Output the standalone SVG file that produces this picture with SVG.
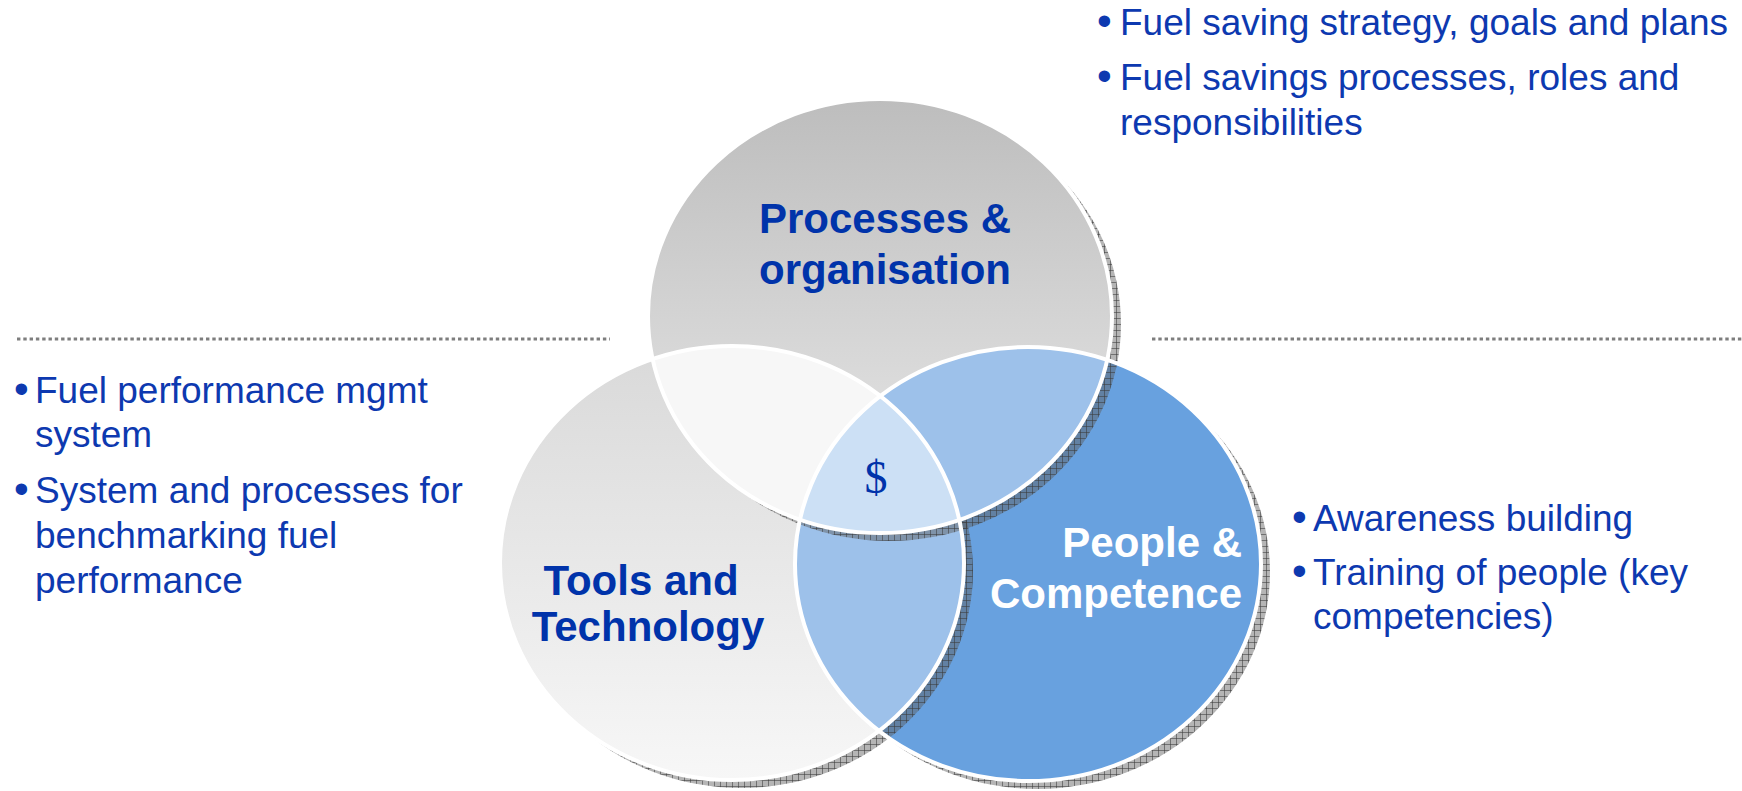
<svg xmlns="http://www.w3.org/2000/svg" width="1742" height="791" viewBox="0 0 1742 791">
  <defs>
    <linearGradient id="gT" x1="0" y1="0" x2="0" y2="1">
      <stop offset="0" stop-color="#BDBDBD"/>
      <stop offset="1" stop-color="#EAEAEA"/>
    </linearGradient>
    <linearGradient id="gL" x1="0" y1="0" x2="0" y2="1">
      <stop offset="0" stop-color="#D9D9D9"/>
      <stop offset="1" stop-color="#F7F7F7"/>
    </linearGradient>
    <pattern id="hatch" width="6" height="6" patternUnits="userSpaceOnUse">
      <rect width="6" height="6" fill="#5A5A5A" fill-opacity="0.45"/>
      <path d="M0 0.5H6M0.5 0V6" stroke="#3A3A3A" stroke-opacity="0.55" stroke-width="1"/>
    </pattern>
    <clipPath id="cT"><ellipse cx="880" cy="316" rx="232" ry="217"/></clipPath>
    <clipPath id="cL"><ellipse cx="732" cy="563" rx="232" ry="217"/></clipPath>
    <clipPath id="cR"><ellipse cx="1028" cy="564" rx="233" ry="217"/></clipPath>
  </defs>
  <style>
    .shadow { fill: url(#hatch); }
    .edge { fill: none; stroke: #FFFFFF; stroke-width: 4; }
    .title { font-family: "Liberation Sans", Arial, sans-serif; font-weight: bold; font-size: 42px; fill: #0033AA; }
    .titleW { font-family: "Liberation Sans", Arial, sans-serif; font-weight: bold; font-size: 42px; fill: #FFFFFF; }
    .body { font-family: "Liberation Sans", Arial, sans-serif; font-size: 37px; fill: #0D39B0; }
    .bullet { font-family: "Liberation Sans", Arial, sans-serif; font-size: 42px; fill: #0D39B0; }
    .dollar { font-family: "Liberation Serif", "Times New Roman", serif; font-size: 46px; fill: #0033AA; }
    .dots { stroke: #7E7E7E; stroke-width: 3; stroke-dasharray: 3.4 2.9; fill: none; }
  </style>

  <g id="separators">
    <line class="dots" x1="17" y1="339" x2="610" y2="339"/>
    <line class="dots" x1="1152" y1="339" x2="1742" y2="339"/>
  </g>

  <g id="node-people">
    <ellipse class="shadow" cx="1037" cy="572" rx="233" ry="217"/>
    <ellipse cx="1028" cy="564" rx="233" ry="217" fill="#68A1DF"/>
  </g>

  <g id="node-tools">
    <ellipse class="shadow" cx="741" cy="571" rx="232" ry="217"/>
    <ellipse cx="732" cy="563" rx="232" ry="217" fill="url(#gL)"/>
    <ellipse id="overlap-tools-people" cx="1028" cy="564" rx="233" ry="217" fill="#9DC1EA" clip-path="url(#cL)"/>
  </g>

  <g id="node-processes">
    <ellipse class="shadow" cx="889" cy="324" rx="232" ry="217"/>
    <ellipse cx="880" cy="316" rx="232" ry="217" fill="url(#gT)"/>
    <ellipse id="overlap-processes-tools" cx="732" cy="563" rx="232" ry="217" fill="#F7F7F7" clip-path="url(#cT)"/>
    <ellipse id="overlap-processes-people" cx="1028" cy="564" rx="233" ry="217" fill="#9DC1EA" clip-path="url(#cT)"/>
    <g clip-path="url(#cT)">
      <ellipse id="overlap-all" cx="1028" cy="564" rx="233" ry="217" fill="#CCE0F5" clip-path="url(#cL)"/>
    </g>
  </g>

  <g id="edges">
    <ellipse class="edge" cx="1028" cy="564" rx="233" ry="217"/>
    <ellipse class="edge" cx="732" cy="563" rx="232" ry="217"/>
    <ellipse class="edge" cx="880" cy="316" rx="232" ry="217"/>
  </g>

  <g id="labels">
    <text class="title" text-anchor="middle"><tspan x="885" y="233">Processes &amp;</tspan><tspan x="885" y="284">organisation</tspan></text>
    <text class="title" text-anchor="middle"><tspan x="641" y="595">Tools and</tspan><tspan x="648" y="641">Technology</tspan></text>
    <text class="titleW" text-anchor="end"><tspan x="1242" y="557">People &amp;</tspan><tspan x="1242" y="608">Competence</tspan></text>
    <text class="dollar" text-anchor="middle" x="876" y="493">$</text>
  </g>

  <g id="text-processes">
    <text class="bullet" x="1097" y="35">•</text>
    <text class="body" x="1120" y="35">Fuel saving strategy, goals and plans</text>
    <text class="bullet" x="1097" y="90">•</text>
    <text class="body"><tspan x="1120" y="90">Fuel savings processes, roles and</tspan><tspan x="1120" y="135">responsibilities</tspan></text>
  </g>

  <g id="text-tools">
    <text class="bullet" x="14" y="403">•</text>
    <text class="body"><tspan x="35" y="403">Fuel performance mgmt</tspan><tspan x="35" y="447">system</tspan></text>
    <text class="bullet" x="14" y="503">•</text>
    <text class="body"><tspan x="35" y="503">System and processes for</tspan><tspan x="35" y="548">benchmarking fuel</tspan><tspan x="35" y="593">performance</tspan></text>
  </g>

  <g id="text-people">
    <text class="bullet" x="1292" y="531">•</text>
    <text class="body" x="1313" y="531">Awareness building</text>
    <text class="bullet" x="1292" y="585">•</text>
    <text class="body"><tspan x="1313" y="585">Training of people (key</tspan><tspan x="1313" y="629">competencies)</tspan></text>
  </g>
</svg>
